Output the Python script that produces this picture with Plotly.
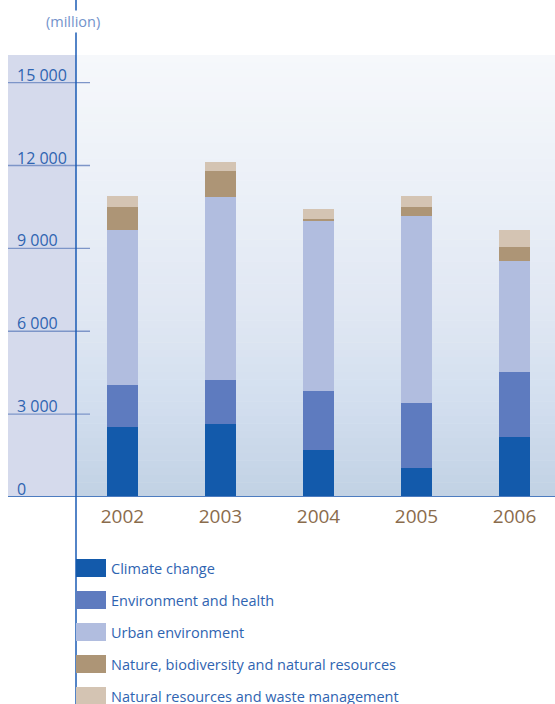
import plotly.graph_objects as go

years = ["2002", "2003", "2004", "2005", "2006"]
series_names = [
    "Climate change",
    "Environment and health",
    "Urban environment",
    "Nature, biodiversity and natural resources",
    "Natural resources and waste management",
]
climate_change = [2530, 2640, 1690, 1040, 2160]
environment_health = [1520, 1590, 2140, 2360, 2360]
urban_environment = [5620, 6640, 6170, 6780, 4030]
nature_biodiversity = [830, 940, 80, 320, 500]
natural_resources_waste = [400, 330, 330, 400, 620]
series_values = [climate_change, environment_health, urban_environment,
                 nature_biodiversity, natural_resources_waste]
colors = ["#135aab", "#5e7bbf", "#b1bddf", "#ad9576", "#d4c4b3"]
y_ticks = [0, 3000, 6000, 9000, 12000, 15000]
y_tick_labels = ["0", "3 000", "6 000", "9 000", "12 000", "15 000"]
unit_label = "(million)"

W, H = 555, 704
ML, MR, MT, MB = 8, 0, 55, 207
PW = W - ML - MR
PH = H - MT - MB


def px_x(p):
    return (p - ML) / PW


def px_y(p):
    return (H - MB - p) / PH


fig = go.Figure()
for name, vals, col in zip(series_names, series_values, colors):
    fig.add_trace(go.Bar(x=years, y=vals, name=name, marker_color=col,
                         marker_line_width=0, width=0.316, showlegend=False))

shapes = []
stops = [(55, (246, 248, 251)), (200, (234, 239, 247)), (300, (225, 232, 243)),
         (400, (211, 223, 239)), (497, (193, 209, 228))]
n = 60
top, bot = 55, 497
for i in range(n):
    p0 = top + (bot - top) * i / n
    p1 = top + (bot - top) * (i + 1) / n
    pm = (p0 + p1) / 2
    for j in range(len(stops) - 1):
        if stops[j][0] <= pm <= stops[j + 1][0]:
            t = (pm - stops[j][0]) / (stops[j + 1][0] - stops[j][0])
            c = [round(stops[j][1][k] + t * (stops[j + 1][1][k] - stops[j][1][k])) for k in range(3)]
            break
    shapes.append(dict(type="rect", xref="paper", yref="paper", x0=px_x(76), x1=1,
                       y0=max(0, px_y(p1 + 0.5)), y1=px_y(p0), fillcolor=f"rgb({c[0]},{c[1]},{c[2]})",
                       line_width=0, layer="below"))
shapes.append(dict(type="rect", xref="paper", yref="paper", x0=0, x1=px_x(76),
                   y0=0, y1=1, fillcolor="#d5daec", line_width=0, layer="below"))
for v in y_ticks[1:]:
    shapes.append(dict(type="line", xref="paper", yref="y", x0=0, x1=px_x(90), y0=v, y1=v,
                       line=dict(color="#7d95c8", width=1.3)))
shapes.append(dict(type="line", xref="paper", yref="y", x0=0, x1=1, y0=0, y1=0,
                   line=dict(color="#4d7cc0", width=2)))
shapes.append(dict(type="line", xref="paper", yref="paper", x0=px_x(76), x1=px_x(76),
                   y0=px_y(704), y1=px_y(0), line=dict(color="#1a5bb5", width=1.5)))

annotations = []
for v, lab in zip(y_ticks, y_tick_labels):
    annotations.append(dict(x=px_x(15), y=v, xref="paper", yref="y", text=lab,
                            showarrow=False, xanchor="left", yanchor="bottom", yshift=-5,
                            font=dict(family="Open Sans", size=16, color="#2f64b1")))
annotations.append(dict(x=px_x(72.5), y=px_y(21), xref="paper", yref="paper", text=unit_label,
                        showarrow=False, xanchor="center", yanchor="middle", bgcolor="white",
                        font=dict(family="Open Sans", size=14.5, color="#7393cb")))

for i, (name, col) in enumerate(zip(series_names, colors)):
    yc = 568 + 32 * i
    shapes.append(dict(type="rect", xref="paper", yref="paper", x0=px_x(76), x1=px_x(106),
                       y0=max(px_y(704), px_y(yc + 9)), y1=px_y(yc - 9), fillcolor=col, line_width=0))
    annotations.append(dict(x=px_x(109), y=px_y(yc), xref="paper", yref="paper", text=name,
                            showarrow=False, xanchor="left", yanchor="middle",
                            font=dict(family="Open Sans", size=14.5, color="#2f64b1")))

fig.update_layout(
    width=W, height=H,
    margin=dict(l=ML, r=MR, t=MT, b=MB, pad=0),
    paper_bgcolor="white", plot_bgcolor="rgba(0,0,0,0)",
    barmode="stack", bargap=0,
    shapes=shapes, annotations=annotations,
    xaxis=dict(type="category", range=[-1.168, 4.413], showgrid=False, zeroline=False,
               showline=False, ticks="", ticklabelstandoff=6,
               tickfont=dict(family="Open Sans", size=19, color="#8a6c4c")),
    yaxis=dict(range=[0, 16000], showgrid=False, zeroline=False, showline=False,
               showticklabels=False, ticks=""),
)
fig.write_html("out.html", config={"displayModeBar": False},
               post_script="document.body.style.margin='0';document.body.style.overflow='hidden';")
